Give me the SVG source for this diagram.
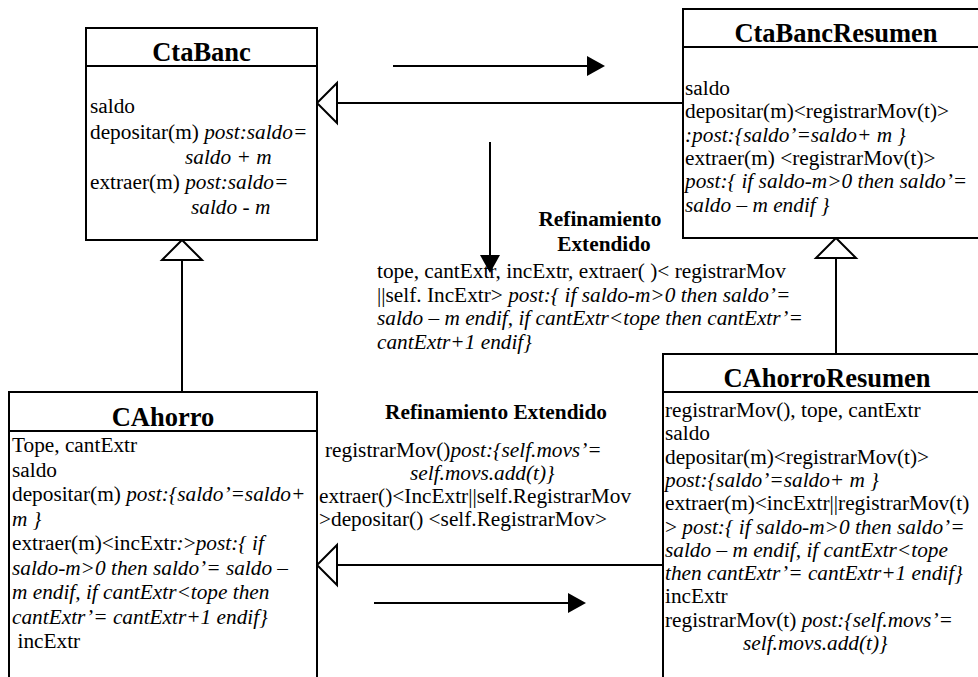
<svg xmlns="http://www.w3.org/2000/svg" width="978" height="677" viewBox="0 0 978 677">
<style>
.box{fill:#fff;stroke:#000;stroke-width:2}
.div{stroke:#000;stroke-width:2}
text{font-family:"Liberation Serif","Times New Roman",serif;font-size:21.3px;fill:#000}
.h{font-weight:bold;font-size:26.5px;text-anchor:middle}
.r{font-weight:bold}
.i{font-style:italic}
.con{stroke:#000;stroke-width:2;fill:none}
.arr{stroke:#000;stroke-width:2;fill:none}
marker{overflow:visible}
</style>
<defs>
<marker id="head" markerUnits="userSpaceOnUse" markerWidth="18" markerHeight="20" refX="3" refY="10" orient="auto">
<path d="M0,0 L18,10 L0,20 z" fill="#000"/>
</marker>
<marker id="gen" markerUnits="userSpaceOnUse" markerWidth="20" markerHeight="40" refX="20" refY="20" orient="auto">
<path d="M0,0 L20,20 L0,40 z" fill="#fff" stroke="#000" stroke-width="2"/>
</marker>
</defs>

<g id="connectors">
<path class="con" d="M683,103 H317" marker-end="url(#gen)"/>
<path class="con" d="M182,392 V240" marker-end="url(#gen)"/>
<path class="con" d="M836,355 V238" marker-end="url(#gen)"/>
<path class="con" d="M663,565 H317" marker-end="url(#gen)"/>
<path class="arr" d="M393,66 H590" marker-end="url(#head)"/>
<path class="arr" d="M490,142 V258" marker-end="url(#head)"/>
<path class="arr" d="M374,603 H571" marker-end="url(#head)"/>
</g>

<g id="CtaBanc">
<rect class="box" x="86" y="28" width="231" height="212"/>
<line class="div" x1="86" y1="66" x2="317" y2="66"/>
<text class="h" x="201.5" y="61">CtaBanc</text>
<text x="90" y="113">saldo</text>
<text x="90" y="138.5">depositar(m) <tspan class="i">post:saldo=</tspan></text>
<text class="i" x="185" y="163.5">saldo + m</text>
<text x="90" y="189">extraer(m) <tspan class="i">post:saldo=</tspan></text>
<text class="i" x="191" y="214">saldo - m</text>
</g>

<g id="CtaBancResumen">
<rect class="box" x="683" y="9" width="310" height="229"/>
<line class="div" x1="683" y1="47" x2="993" y2="47"/>
<text class="h" x="836" y="42">CtaBancResumen</text>
<text x="685" y="95">saldo</text>
<text x="685" y="118.3">depositar(m)&lt;registrarMov(t)&gt;</text>
<text class="i" x="685" y="141.6">:post:{saldo’=saldo+ m }</text>
<text x="685" y="164.9">extraer(m) &lt;registrarMov(t)&gt;</text>
<text class="i" x="685" y="188.2">post:{ if saldo-m&gt;0 then saldo’=</text>
<text class="i" x="685" y="211.5">saldo – m endif }</text>
</g>

<g id="label-top">
<text class="r" x="600" y="226" text-anchor="middle">Refinamiento</text>
<text class="r" x="604" y="251" text-anchor="middle">Extendido</text>
<text x="377" y="278">tope, cantExtr, incExtr, extraer( )&lt; registrarMov</text>
<text x="377" y="301.5">||self. IncExtr&gt; <tspan class="i">post:{ if saldo-m&gt;0 then saldo’=</tspan></text>
<text class="i" x="377" y="325">saldo – m endif, if cantExtr&lt;tope then cantExtr’=</text>
<text class="i" x="377" y="348.5">cantExtr+1 endif}</text>
</g>

<g id="CAhorro">
<rect class="box" x="9" y="392" width="308" height="300"/>
<line class="div" x1="9" y1="431" x2="317" y2="431"/>
<text class="h" x="163" y="426">CAhorro</text>
<text x="12" y="452">Tope, cantExtr</text>
<text x="12" y="476.5">saldo</text>
<text x="12" y="501">depositar(m) <tspan class="i">post:{saldo’=saldo+</tspan></text>
<text class="i" x="12" y="525.5">m }</text>
<text x="12" y="550">extraer(m)&lt;incExtr<tspan class="i">:</tspan>&gt;<tspan class="i">post:{ if</tspan></text>
<text class="i" x="12" y="574.5">saldo-m&gt;0 then saldo’= saldo –</text>
<text class="i" x="12" y="599">m endif, if cantExtr&lt;tope then</text>
<text class="i" x="12" y="623.5">cantExtr’= cantExtr+1 endif}</text>
<text x="17.5" y="648">incExtr</text>
</g>

<g id="label-bottom">
<text class="r" x="496" y="419" text-anchor="middle">Refinamiento Extendido</text>
<text x="325" y="457">registrarMov()<tspan class="i">post:{self.movs’=</tspan></text>
<text class="i" x="410" y="480">self.movs.add(t)}</text>
<text x="319" y="503">extraer()&lt;IncExtr||self.RegistrarMov</text>
<text x="319" y="526">&gt;depositar() &lt;self.RegistrarMov&gt;</text>
</g>

<g id="CAhorroResumen">
<rect class="box" x="663" y="354" width="330" height="340"/>
<line class="div" x1="663" y1="392" x2="993" y2="392"/>
<text class="h" x="827" y="387">CAhorroResumen</text>
<text x="665" y="417">registrarMov(), tope, cantExtr</text>
<text x="665" y="440.3">saldo</text>
<text x="665" y="463.6">depositar(m)&lt;registrarMov(t)&gt;</text>
<text class="i" x="665" y="486.9">post:{saldo’=saldo+ m }</text>
<text x="665" y="510.2">extraer(m)&lt;incExtr||registrarMov(t)</text>
<text x="665" y="533.5">&gt; <tspan class="i">post:{ if saldo-m&gt;0 then saldo’=</tspan></text>
<text class="i" x="665" y="556.8">saldo – m endif, if cantExtr&lt;tope</text>
<text class="i" x="665" y="580.1">then cantExtr’= cantExtr+1 endif}</text>
<text x="665" y="603.4">incExtr</text>
<text x="665" y="626.7">registrarMov(t) <tspan class="i">post:{self.movs’=</tspan></text>
<text class="i" x="743" y="650">self.movs.add(t)}</text>
</g>
</svg>
